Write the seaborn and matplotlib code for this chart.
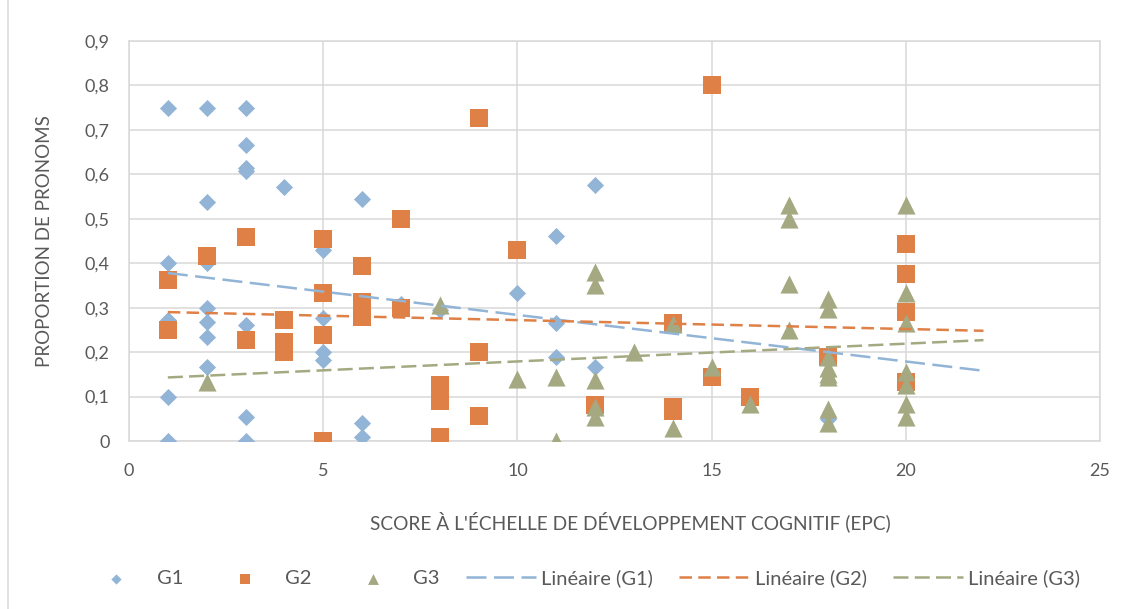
import numpy as np
import pandas as pd
import seaborn as sns
import matplotlib.pyplot as plt
from matplotlib.lines import Line2D

# Données
g1_x = [1, 1, 1, 1, 1, 2, 2, 2, 2, 2, 2, 2, 3, 3, 3, 3, 3, 3, 3, 4, 5, 5, 5, 5,
        6, 6, 6, 7, 8, 10, 11, 11, 11, 12, 12, 18]
g1_y = [0.75, 0.4, 0.273, 0.1, 0, 0.75, 0.538, 0.4, 0.3, 0.267, 0.235, 0.167,
        0.75, 0.667, 0.615, 0.608, 0.26, 0.055, 0, 0.571, 0.429, 0.276, 0.2, 0.182,
        0.545, 0.04, 0.01, 0.308, 0.294, 0.333, 0.461, 0.265, 0.19, 0.576, 0.167, 0.05]

g2_x = [1, 1, 2, 3, 3, 4, 4, 4, 5, 5, 5, 5, 6, 6, 6, 6, 7, 7, 8, 8, 8, 9, 9, 9,
        10, 12, 14, 14, 14, 15, 15, 16, 18, 20, 20, 20, 20]
g2_y = [0.363, 0.25, 0.417, 0.46, 0.227, 0.273, 0.222, 0.2, 0.455, 0.333, 0.238, 0,
        0.393, 0.312, 0.296, 0.278, 0.5, 0.3, 0.125, 0.091, 0.01, 0.727, 0.2, 0.057,
        0.429, 0.08, 0.265, 0.077, 0.067, 0.8, 0.145, 0.1, 0.19, 0.444, 0.375, 0.291, 0.133]

g3_x = [2, 8, 10, 11, 11, 12, 12, 12, 12, 12, 13, 14, 14, 15, 16, 17, 17, 17, 17,
        18, 18, 18, 18, 18, 18, 18, 18, 20, 20, 20, 20, 20, 20, 20]
g3_y = [0.133, 0.306, 0.14, 0.143, 0, 0.38, 0.35, 0.138, 0.077, 0.055, 0.2, 0.263, 0.03,
        0.167, 0.083, 0.53, 0.5, 0.353, 0.25, 0.32, 0.297, 0.19, 0.165, 0.15, 0.143,
        0.072, 0.04, 0.53, 0.333, 0.265, 0.156, 0.125, 0.083, 0.053]

# Courbes de tendance linéaires (extrémités)
trend_x = [1, 22]
trend_g1 = [0.378, 0.158]
trend_g2 = [0.29, 0.248]
trend_g3 = [0.143, 0.227]

x_ticks = [0, 5, 10, 15, 20, 25]
y_ticks = [0, 0.1, 0.2, 0.3, 0.4, 0.5, 0.6, 0.7, 0.8, 0.9]
y_tick_labels = ["0", "0,1", "0,2", "0,3", "0,4", "0,5", "0,6", "0,7", "0,8", "0,9"]

c_g1 = "#92B4D6"
c_g2 = "#DF8046"
c_g3 = "#A5A982"
gris = "#D9D9D9"
texte = "#595959"

sns.set_theme(style="white")
plt.rcParams["font.family"] = ["Lato", "DejaVu Sans"]

fig = plt.figure(figsize=(11.3, 6.09), dpi=100)
ax = fig.add_axes([129 / 1130, 1 - 441 / 609, 971 / 1130, 400 / 609])

# Points
sns.scatterplot(x=g1_x, y=g1_y, marker="D", s=76, color=c_g1, linewidth=0,
                label="G1", ax=ax, zorder=3)
sns.scatterplot(x=g2_x, y=g2_y, marker="s", s=160, color=c_g2, linewidth=0,
                label="G2", ax=ax, zorder=3)
sns.scatterplot(x=g3_x, y=g3_y, marker="^", s=170, color=c_g3, linewidth=0,
                label="G3", ax=ax, zorder=3)

# Tendances
sns.lineplot(x=trend_x, y=trend_g1, color=c_g1, linewidth=1.8,
             linestyle=(0, (8, 3)), label="Linéaire (G1)", ax=ax, zorder=4)
sns.lineplot(x=trend_x, y=trend_g2, color=c_g2, linewidth=1.8,
             linestyle=(0, (5, 2.5)), label="Linéaire (G2)", ax=ax, zorder=4)
sns.lineplot(x=trend_x, y=trend_g3, color=c_g3, linewidth=1.8,
             linestyle=(0, (6, 2.5)), label="Linéaire (G3)", ax=ax, zorder=4)

# Axes
ax.set_xlim(0, 25)
ax.set_ylim(0, 0.9)
ax.set_xticks(x_ticks)
ax.set_yticks(y_ticks)
ax.set_yticklabels(y_tick_labels)
ax.grid(True, color=gris, linewidth=1.1, zorder=0)
ax.set_axisbelow(True)
for sp in ax.spines.values():
    sp.set_color(gris)
    sp.set_linewidth(1.1)
ax.tick_params(axis="both", length=0, labelsize=13, labelcolor=texte)
ax.tick_params(axis="x", pad=16)
ax.tick_params(axis="y", pad=14)

ax.set_xlabel("SCORE À L'ÉCHELLE DE DÉVELOPPEMENT COGNITIF (EPC)",
              fontsize=13.8, color=texte)
ax.set_ylabel("PROPORTION DE PRONOMS", fontsize=13.5, color=texte)
ax.xaxis.set_label_coords(0.516, -0.175)
ax.yaxis.set_label_coords(-0.078, 0.5)

# Légende en bas
handles, labels = ax.get_legend_handles_labels()
ax.get_legend().remove()
fig.legend(handles, labels, loc="center", bbox_to_anchor=(0.514, 0.051),
           ncol=6, frameon=False, fontsize=14.5, labelcolor=texte,
           markerscale=0.6, handlelength=3.5, handletextpad=0.25,
           columnspacing=1.3)

# Bordure de la zone de graphique
fig.add_artist(Line2D([8 / 1130, 8 / 1130], [0, 1], color=gris, linewidth=1.1))

plt.savefig("out.png", dpi=100)
